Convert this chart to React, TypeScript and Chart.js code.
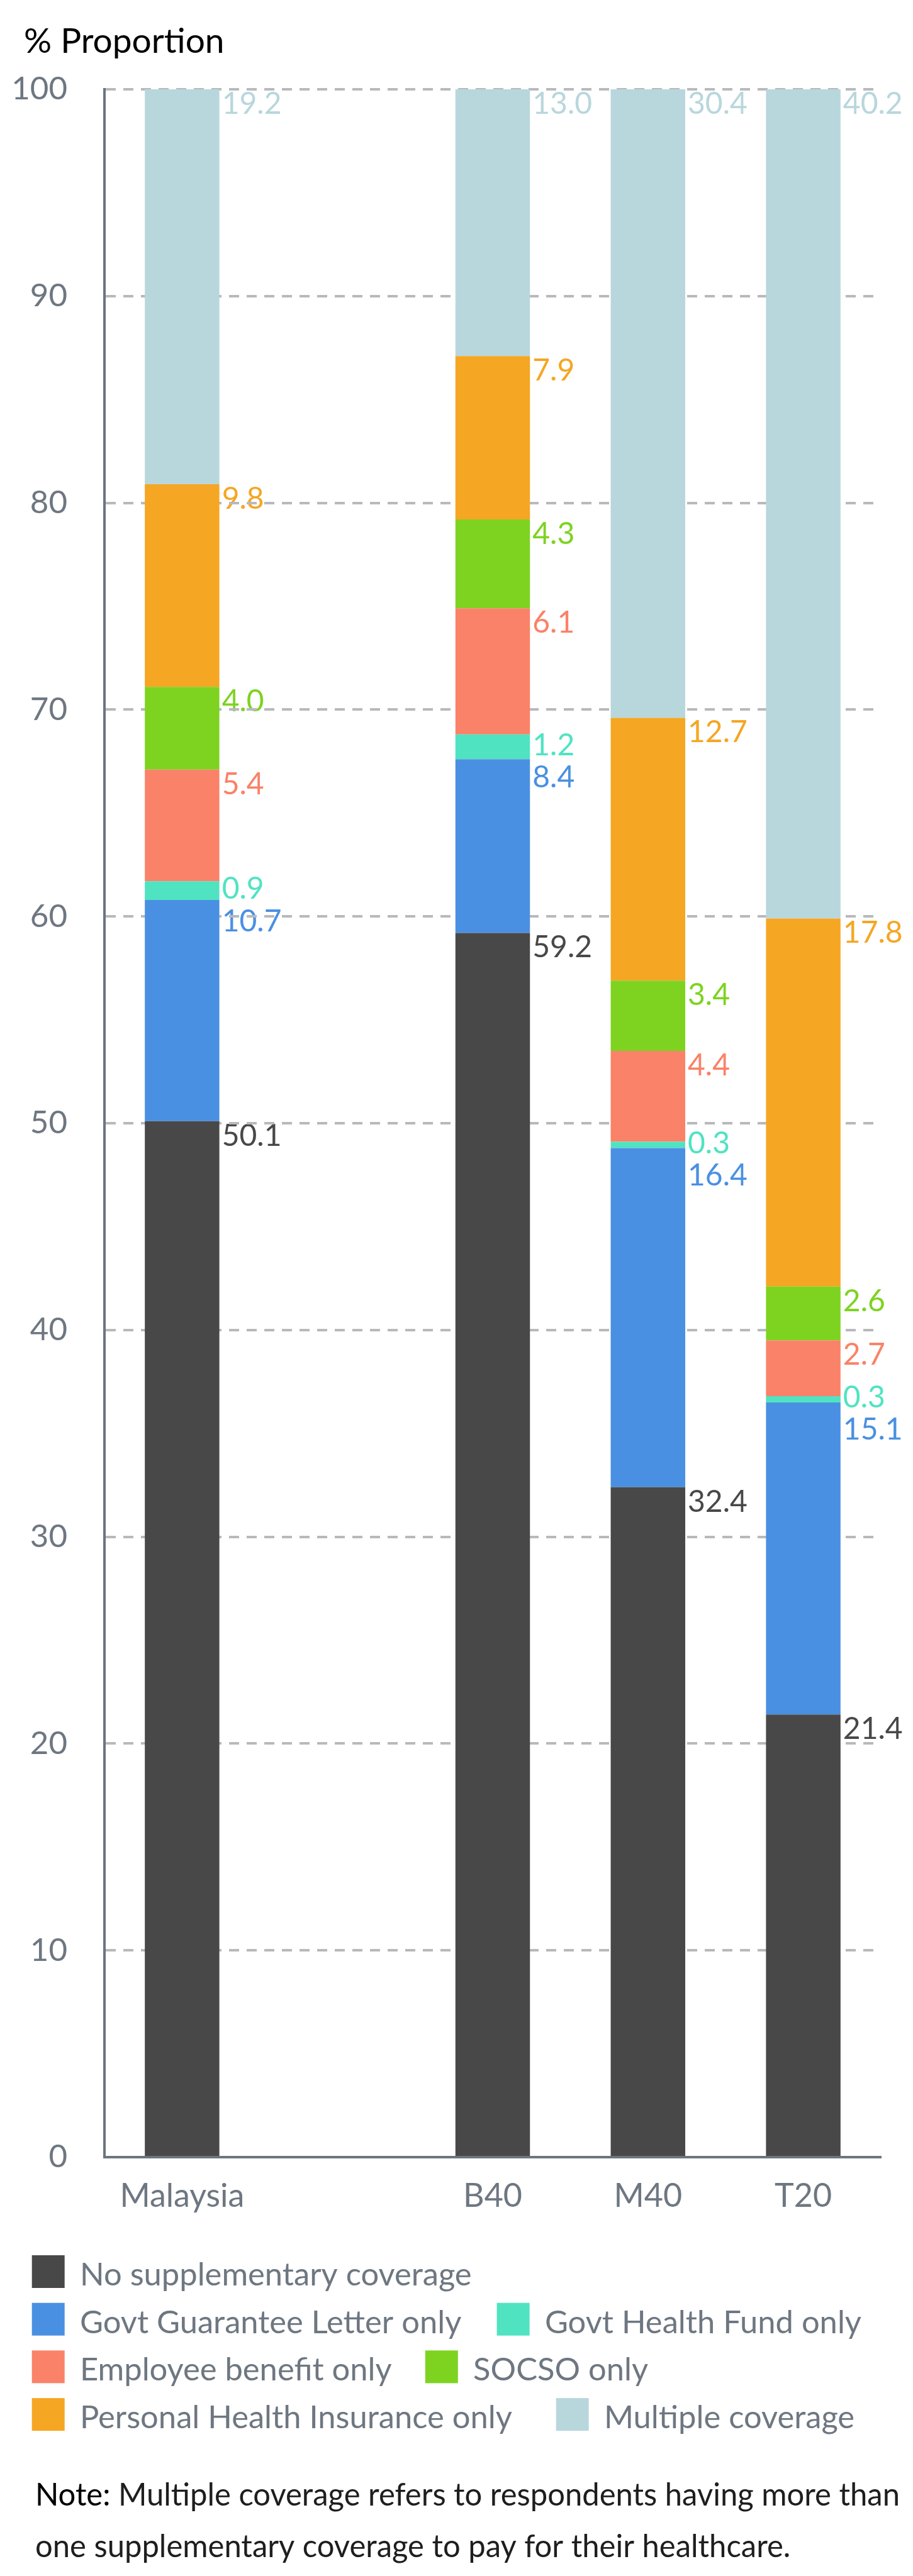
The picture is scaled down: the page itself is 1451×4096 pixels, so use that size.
import React, { useEffect, useRef } from "react";
import { Chart, registerables } from "chart.js";

Chart.register(...registerables);

// ---------- data ----------
const categories = ["Malaysia", "", "B40", "M40", "T20"];
const seriesNames = [
  "No supplementary coverage",
  "Govt Guarantee Letter only",
  "Govt Health Fund only",
  "Employee benefit only",
  "SOCSO only",
  "Personal Health Insurance only",
  "Multiple coverage",
];
const seriesColors = ["#484848", "#4a90e2", "#50e3c2", "#fa8268", "#7ed321", "#f5a623", "#b8d7dc"];
const noSupplementary = [50.1, null, 59.2, 32.4, 21.4];
const govtGuaranteeLetter = [10.7, null, 8.4, 16.4, 15.1];
const govtHealthFund = [0.9, null, 1.2, 0.3, 0.3];
const employeeBenefit = [5.4, null, 6.1, 4.4, 2.7];
const socso = [4.0, null, 4.3, 3.4, 2.6];
const personalHealthInsurance = [9.8, null, 7.9, 12.7, 17.8];
const multipleCoverage = [19.2, null, 13.0, 30.4, 40.2];
const yMin = 0;
const yMax = 100;
const yStep = 10;
const titleText = "% Proportion";
const legendRows = [[0], [1, 2], [3, 4], [5, 6]];
const noteLead = "Note:";
const noteLines = [
  " Multiple coverage refers to respondents having more than",
  "one supplementary coverage to pay for their healthcare.",
];

// ---------- layout (px) ----------
const W = 1451;
const H = 4096;
const CHART_LEFT = 166;
const CHART_RIGHT = 1400;
const CHART_TOP = 142;
const CHART_BOTTOM = 3430;
const X_AXIS_H = 100;

const FONT = "Lato, 'Noto Sans', sans-serif";
const AXIS_COLOR = "#6c7580";
const TICK_COLOR = "#6e7781";
const GRID_COLOR = "#b7b9bd";

const seriesValues = [
  noSupplementary,
  govtGuaranteeLetter,
  govtHealthFund,
  employeeBenefit,
  socso,
  personalHealthInsurance,
  multipleCoverage,
];

function spread(items: { y: number }[], minGap: number) {
  items.sort((a, b) => a.y - b.y);
  for (let iter = 0; iter < 200; iter++) {
    let moved = false;
    for (let k = 0; k < items.length - 1; k++) {
      const a = items[k];
      const b = items[k + 1];
      const d = b.y - a.y;
      if (d < minGap - 0.01) {
        const s = (minGap - d) / 2;
        a.y -= s;
        b.y += s;
        moved = true;
      }
    }
    if (!moved) break;
  }
}

const labelPlugin = {
  id: "segLabels",
  beforeDraw(chart: any) {
    const ctx = chart.ctx as CanvasRenderingContext2D;
    ctx.save();
    ctx.fillStyle = "#ffffff";
    ctx.fillRect(0, 0, chart.width, chart.height);
    const fs = 48;
    ctx.font = `${fs}px ${FONT}`;
    ctx.textAlign = "left";
    ctx.textBaseline = "alphabetic";
    for (let i = 0; i < categories.length; i++) {
      const items: any[] = [];
      chart.data.datasets.forEach((ds: any, j: number) => {
        const v = ds.data[i];
        if (v == null) return;
        const el = chart.getDatasetMeta(j).data[i];
        if (!el) return;
        const p = el.getProps(["x", "y", "width"], true);
        items.push({
          text: Number(v).toFixed(1),
          color: ds.backgroundColor,
          x: p.x + p.width / 2 + 4,
          y: Math.max(p.y, chart.chartArea.top) + 21.7,
        });
      });
      spread(items, 51.3);
      items.forEach((it) => {
        ctx.fillStyle = it.color;
        ctx.fillText(it.text, it.x, it.y + 0.358 * fs);
      });
    }
    ctx.restore();
  },
  afterDraw(chart: any) {
    const ctx = chart.ctx as CanvasRenderingContext2D;
    ctx.save();
    ctx.textAlign = "left";
    ctx.textBaseline = "alphabetic";
    // title
    ctx.fillStyle = "#000000";
    ctx.font = `55px ${FONT}`;
    ctx.fillText(titleText, 38, 83.6);

    // legend
    const legendTop = 3586;
    const rowStep = 75.7;
    const sw = 52;
    const secondX = [0, 789.6, 675.8, 883.7];
    ctx.font = `50.7px ${FONT}`;
    legendRows.forEach((row, r) => {
      const top = legendTop + r * rowStep;
      row.forEach((si, k) => {
        const x = k === 0 ? 50.7 : secondX[r];
        ctx.fillStyle = seriesColors[si];
        ctx.fillRect(x, top, sw, sw);
        ctx.fillStyle = TICK_COLOR;
        ctx.fillText(seriesNames[si], x + 76.3, top + 48);
      });
    });

    // note (slightly condensed to match the reference line length)
    ctx.font = `50.6px ${FONT}`;
    const noteX = 56;
    const targetW = 1374;
    const leadW = ctx.measureText(noteLead).width;
    const fullW = leadW + ctx.measureText(noteLines[0]).width;
    const sx = Math.min(1, targetW / fullW);
    ctx.translate(noteX, 0);
    ctx.scale(sx, 1);
    ctx.fillStyle = "#000000";
    ctx.fillText(noteLead, 0, 3984);
    ctx.fillStyle = "#1e1e1e";
    ctx.fillText(noteLines[0], leadW, 3984);
    ctx.fillText(noteLines[1], 0, 4066);
    ctx.restore();
  },
};

export default function App() {
  const ref = useRef<HTMLCanvasElement | null>(null);
  useEffect(() => {
    document.body.style.margin = "0";
    const canvas = ref.current!;
    const chart = new Chart(canvas, {
      type: "bar",
      data: {
        labels: categories,
        datasets: seriesNames.map((name, j) => ({
          label: name,
          data: seriesValues[j] as any,
          backgroundColor: seriesColors[j],
          borderWidth: 0,
          categoryPercentage: 1,
          barPercentage: 0.48,
        })),
      },
      options: {
        responsive: false,
        animation: false,
        devicePixelRatio: 1,
        layout: {
          padding: {
            left: 0,
            top: CHART_TOP,
            right: W - CHART_RIGHT,
            bottom: H - CHART_BOTTOM - X_AXIS_H,
          },
        },
        plugins: {
          legend: { display: false },
          title: { display: false },
          tooltip: { enabled: false },
        },
        scales: {
          x: {
            stacked: true,
            grid: { display: false, drawTicks: false },
            border: { display: true, color: AXIS_COLOR, width: 4 },
            ticks: {
              color: TICK_COLOR,
              font: { family: FONT, size: 52 },
              padding: 31,
              autoSkip: false,
              maxRotation: 0,
              minRotation: 0,
            },
            afterFit: (scale: any) => {
              scale.height = X_AXIS_H;
            },
          },
          y: {
            stacked: true,
            min: yMin,
            max: yMax,
            grid: { color: GRID_COLOR, lineWidth: 4, drawTicks: false },
            border: { display: true, color: AXIS_COLOR, width: 4, dash: [16, 12] },
            ticks: {
              stepSize: yStep,
              color: TICK_COLOR,
              font: { family: FONT, size: 51 },
              padding: 59,
            },
            afterFit: (scale: any) => {
              scale.width = CHART_LEFT;
            },
          },
        },
      },
      plugins: [labelPlugin],
    });
    return () => chart.destroy();
  }, []);
  return (
    <div style={{ width: W, height: H, background: "#fff" }}>
      <canvas ref={ref} width={W} height={H} style={{ display: "block", width: W, height: H }} />
    </div>
  );
}
